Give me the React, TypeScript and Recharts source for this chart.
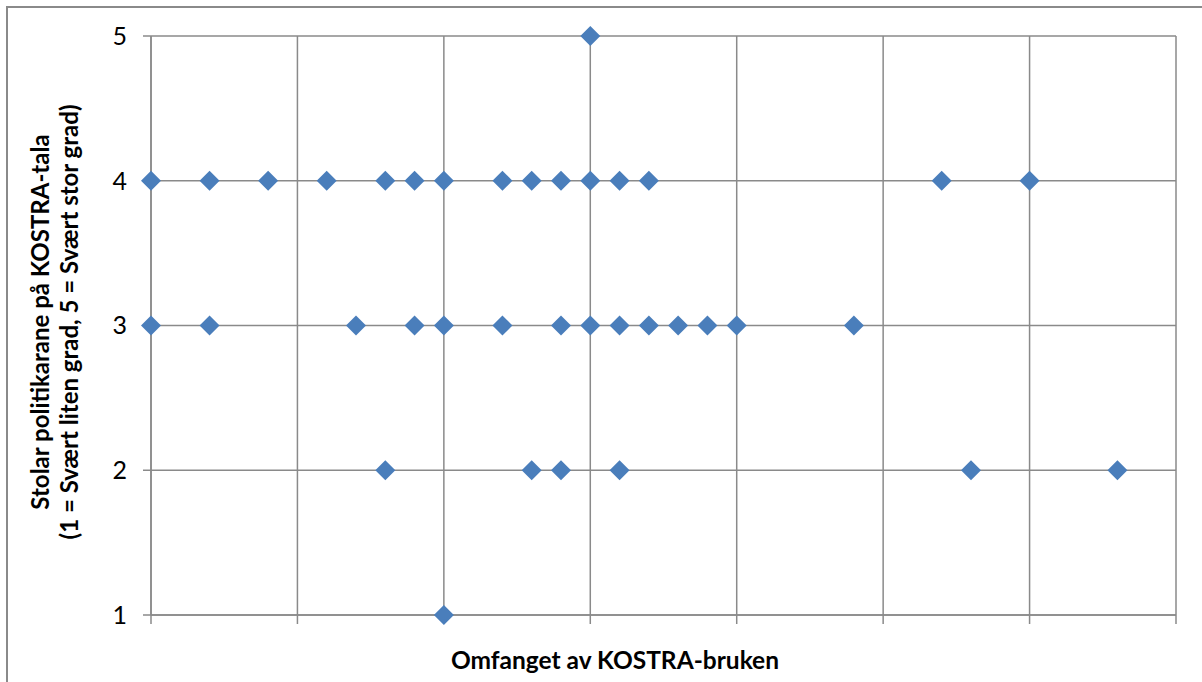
import { ScatterChart, Scatter, XAxis, YAxis, CartesianGrid } from 'recharts'

// Omfanget av KOSTRA-bruken (x) og kor mykje politikarane stolar på tala (y)
const omfang = [
  15,
  0, 2, 4, 6, 8, 9, 10, 12, 13, 14, 15, 16, 17, 27, 30,
  0, 2, 7, 9, 10, 12, 14, 15, 16, 17, 18, 19, 20, 24,
  8, 13, 14, 16, 28, 33,
  10,
]
const stolar = [
  5,
  4, 4, 4, 4, 4, 4, 4, 4, 4, 4, 4, 4, 4, 4, 4,
  3, 3, 3, 3, 3, 3, 3, 3, 3, 3, 3, 3, 3, 3,
  2, 2, 2, 2, 2, 2,
  1,
]
const xTicks = [0, 5, 10, 15, 20, 25, 30, 35]
const yTicks = [1, 2, 3, 4, 5]

const yLabel1 = 'Stolar politikarane på KOSTRA-tala'
const yLabel2 = '(1 = Svært liten grad, 5 = Svært stor grad)'
const xLabel = 'Omfanget av KOSTRA-bruken'

const FONT = 'Lato, "Open Sans", sans-serif'
const GRID = '#8a8a8a'
const BLUE = '#4a7ebb'

const data = omfang.map((x, i) => ({ x, y: stolar[i] }))

function Diamond(props: any) {
  const { cx, cy } = props
  const r = 10
  return (
    <polygon
      points={`${cx},${cy - r} ${cx + r},${cy} ${cx},${cy + r} ${cx - r},${cy}`}
      fill={BLUE}
    />
  )
}

export default function App() {
  return (
    <div
      style={{
        position: 'absolute',
        left: 0,
        top: 0,
        width: 1202,
        height: 682,
        overflow: 'hidden',
        background: '#fff',
        fontFamily: FONT,
      }}
    >
      <div
        style={{
          position: 'absolute',
          left: 6,
          top: 6,
          width: 1300,
          height: 800,
          border: `2px solid ${GRID}`,
        }}
      />
      <div style={{ position: 'absolute', left: 0, top: 0 }}>
        <ScatterChart width={1202} height={682} margin={{ top: 36, right: 26, bottom: 0, left: 0 }}>
          <CartesianGrid stroke={GRID} strokeWidth={1.5} horizontalValues={yTicks} verticalValues={xTicks} />
          <XAxis
            type="number"
            dataKey="x"
            domain={[0, 35]}
            ticks={xTicks}
            height={67}
            tickSize={9}
            tickFormatter={() => ''}
            stroke={GRID}
            strokeWidth={1.5}
            label={{
              content: () => (
                <text x={615} y={669} textAnchor="middle" fontFamily={FONT} fontWeight="bold" fontSize={24.5} fill="#000">
                  {xLabel}
                </text>
              ),
            }}
          />
          <YAxis
            type="number"
            dataKey="y"
            domain={[1, 5]}
            ticks={yTicks}
            width={151}
            tickSize={8}
            tickMargin={16}
            stroke={GRID}
            strokeWidth={1.5}
            tick={{ fill: '#000', fontSize: 25, fontFamily: FONT }}
            label={{
              content: () => (
                <text
                  transform="rotate(-90, 55, 322)"
                  x={55}
                  y={322}
                  textAnchor="middle"
                  fontFamily={FONT}
                  fontWeight="bold"
                  fontSize={24}
                  fill="#000"
                >
                  <tspan x={55} dy={-6}>{yLabel1}</tspan>
                  <tspan x={55} dy={29}>{yLabel2}</tspan>
                </text>
              ),
            }}
          />
          <Scatter data={data} shape={<Diamond />} isAnimationActive={false} />
        </ScatterChart>
      </div>
    </div>
  )
}
